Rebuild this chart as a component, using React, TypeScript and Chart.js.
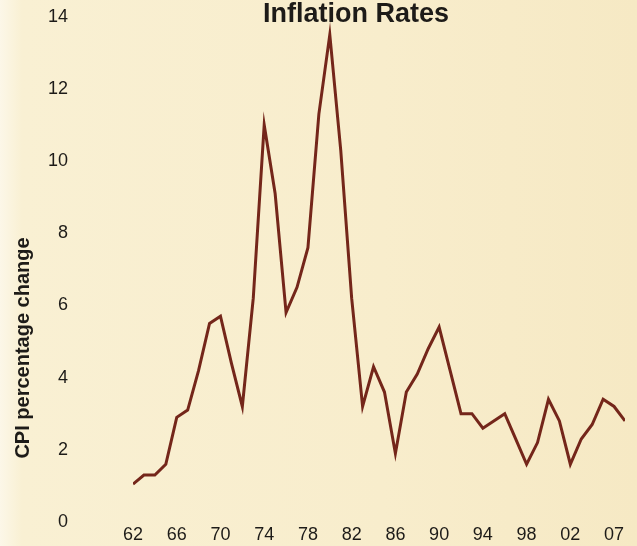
import React, { useEffect, useRef } from 'react';
import { Chart, registerables } from 'chart.js';

Chart.register(...registerables);

const titleText = 'Inflation Rates';
const yAxisTitle = 'CPI percentage change';

const years = [
  1962, 1963, 1964, 1965, 1966, 1967, 1968, 1969, 1970, 1971,
  1972, 1973, 1974, 1975, 1976, 1977, 1978, 1979, 1980, 1981,
  1982, 1983, 1984, 1985, 1986, 1987, 1988, 1989, 1990, 1991,
  1992, 1993, 1994, 1995, 1996, 1997, 1998, 1999, 2000, 2001,
  2002, 2003, 2004, 2005, 2006, 2007,
];

const cpiChange = [
  1.05, 1.3, 1.3, 1.6, 2.9, 3.1, 4.2, 5.5, 5.7, 4.4,
  3.2, 6.2, 11.0, 9.1, 5.8, 6.5, 7.6, 11.3, 13.5, 10.3,
  6.2, 3.2, 4.3, 3.6, 1.9, 3.6, 4.1, 4.8, 5.4, 4.2,
  3.0, 3.0, 2.6, 2.8, 3.0, 2.3, 1.6, 2.2, 3.4, 2.8,
  1.6, 2.3, 2.7, 3.4, 3.2, 2.8,
];

const xTickYears = [1962, 1966, 1970, 1974, 1978, 1982, 1986, 1990, 1994, 1998, 2002, 2006];
const xTickLabels = ['62', '66', '70', '74', '78', '82', '86', '90', '94', '98', '02', '07'];

const FONT = '"Liberation Sans", Arial, Helvetica, sans-serif';
const TEXT_COLOR = '#1d1b18';

const textPlugin = {
  id: 'chartTexts',
  afterDraw(chart: any) {
    const ctx = chart.ctx as CanvasRenderingContext2D;
    ctx.save();
    ctx.fillStyle = TEXT_COLOR;
    ctx.textAlign = 'center';
    ctx.textBaseline = 'alphabetic';
    ctx.font = `bold 27px ${FONT}`;
    ctx.fillText(titleText, 356, 22);
    ctx.translate(29, 348);
    ctx.rotate(-Math.PI / 2);
    ctx.font = `bold 20px ${FONT}`;
    ctx.fillText(yAxisTitle, 0, 0);
    ctx.restore();
  },
};

export default function App() {
  const canvasRef = useRef<HTMLCanvasElement | null>(null);

  useEffect(() => {
    if (!canvasRef.current) return;
    const chart = new Chart(canvasRef.current, {
      type: 'line',
      data: {
        datasets: [
          {
            label: yAxisTitle,
            data: years.map((y, i) => ({ x: y, y: cpiChange[i] })),
            borderColor: '#74261a',
            borderWidth: 3,
            pointRadius: 0,
            tension: 0,
            fill: false,
          },
        ],
      },
      options: {
        responsive: false,
        animation: false,
        layout: { padding: { left: 0, right: 12, top: 16.6, bottom: 0 } },
        plugins: {
          legend: { display: false },
          tooltip: { enabled: false },
          title: { display: false },
        },
        scales: {
          x: {
            type: 'linear',
            min: 1962,
            max: 2007,
            grid: { display: false, drawTicks: false },
            border: { display: false },
            afterBuildTicks: (scale: any) => {
              scale.ticks = xTickYears.map((v) => ({ value: v }));
            },
            afterFit: (scale: any) => {
              scale.height = 24;
              scale.paddingLeft = 0;
              scale.paddingRight = 0;
            },
            ticks: {
              autoSkip: false,
              maxRotation: 0,
              minRotation: 0,
              padding: 2,
              color: TEXT_COLOR,
              font: { size: 18, family: FONT },
              callback: (_v: any, i: number) => xTickLabels[i] ?? '',
            },
          },
          y: {
            min: 0,
            max: 14,
            grid: { display: false, drawTicks: false },
            border: { display: false },
            afterFit: (scale: any) => {
              scale.width = 133;
              scale.paddingTop = 0;
              scale.paddingBottom = 0;
            },
            ticks: {
              stepSize: 2,
              padding: 65,
              color: TEXT_COLOR,
              font: { size: 18, family: FONT },
            },
          },
        },
      },
      plugins: [textPlugin],
    });
    return () => chart.destroy();
  }, []);

  return (
    <div
      style={{
        position: 'fixed',
        left: 0,
        top: 0,
        width: 637,
        height: 546,
        background:
          'linear-gradient(to right, #fcf7e8 0px, #f9f0d3 22px, #f8edcc 60%, #f6e9c4 100%)',
      }}
    >
      <canvas ref={canvasRef} width={637} height={546} style={{ display: 'block' }} />
    </div>
  );
}
